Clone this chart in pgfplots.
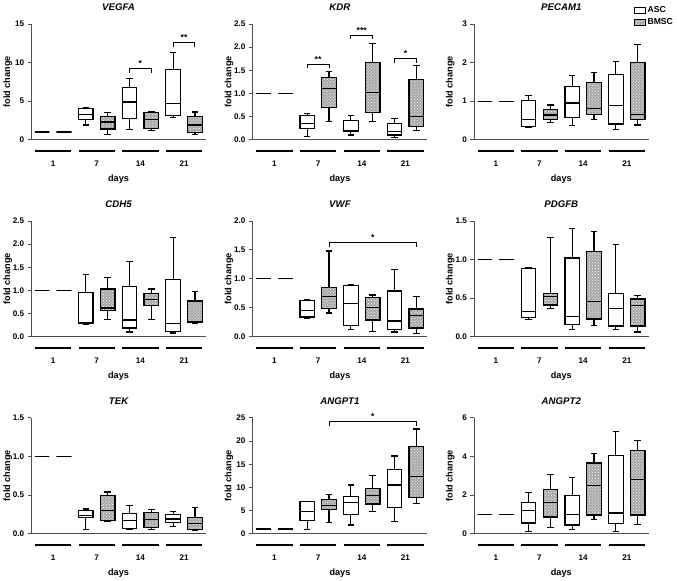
\documentclass[border=0pt]{standalone}
\usepackage{fontspec}
\setmainfont{Liberation Sans}
\usepackage{pgfplots}
\pgfplotsset{compat=1.18}
\usepgfplotslibrary{groupplots,statistics}
\usetikzlibrary{patterns}

\pgfplotsset{
  asc/.style={black, line width=1.2pt, solid, boxplot/every box/.style={fill=white}},
  bmsc/.style={black, line width=1.2pt, solid, boxplot/every box/.style={fill=gray!70, postaction={pattern=crosshatch dots, pattern color=white}}},
  dec/.style={yticklabel style={/pgf/number format/.cd, fixed, fixed zerofill, precision=1}},
}
% position, lower whisker, lower quartile, median, upper quartile, upper whisker
\newcommand{\asc}[6]{\addplot[asc, boxplot prepared={draw direction=y, draw position=#1, lower whisker=#2, lower quartile=#3, median=#4, upper quartile=#5, upper whisker=#6}] coordinates {};}
\newcommand{\bm}[6]{\addplot[bmsc, boxplot prepared={draw direction=y, draw position=#1, lower whisker=#2, lower quartile=#3, median=#4, upper quartile=#5, upper whisker=#6}] coordinates {};}
% x1, x2, mid, low, high, stars
\newcommand{\brk}[6]{\draw[line width=1pt] (axis cs:#1,#4) -- (axis cs:#1,#5) -- (axis cs:#2,#5) -- (axis cs:#2,#4);
  \node[font=\bfseries\fontsize{8.5}{9}\selectfont, anchor=south, inner sep=1.5pt] at (axis cs:#3,#5) {#6};}
\newcommand{\grouplines}{%
  \draw[line width=1.6pt] ([yshift=-11pt]axis cs:0,0) -- ([yshift=-11pt]axis cs:2.5,0);
  \draw[line width=1.6pt] ([yshift=-11pt]axis cs:3,0) -- ([yshift=-11pt]axis cs:5.5,0);
  \draw[line width=1.6pt] ([yshift=-11pt]axis cs:6,0) -- ([yshift=-11pt]axis cs:8.5,0);
  \draw[line width=1.6pt] ([yshift=-11pt]axis cs:9,0) -- ([yshift=-11pt]axis cs:11.5,0);}

\begin{document}
\begin{tikzpicture}
\begin{groupplot}[
  group style={group size=3 by 3, horizontal sep=46pt, vertical sep=80pt},
  width=172pt, height=114pt, scale only axis,
  xmin=-0.25, xmax=11.75, ymin=0,
  axis x line=bottom, axis y line=left,
  axis line style={-, line width=0.9pt, black!70},
  xtick={1.25,4.25,7.25,10.25}, xticklabels={1,7,14,21},
  x tick style={draw=none},
  xticklabel style={yshift=-14pt},
  y tick style={line width=0.9pt, black!70},
  tick align=outside, major tick length=3.5pt,
  boxplot/draw direction=y, boxplot/box extend=1, boxplot/whisker extend=0.45,
  clip=false,
  xlabel={days}, ylabel={fold change},
  xlabel style={at={(axis description cs:0.5,0)}, anchor=north, yshift=-31pt},
  ylabel style={at={(axis description cs:-0.135,0.5)}, anchor=center},
  title style={font=\bfseries\itshape\fontsize{9.5}{10}\selectfont, yshift=4pt},
  ticklabel style={font=\bfseries\fontsize{8}{9}\selectfont},
  label style={font=\bfseries\fontsize{9}{10}\selectfont},
  /pgf/number format/assume math mode=true,
]
% VEGFA
\nextgroupplot[title={VEGFA}, ymax=15, ytick={0,5,10,15}]
\asc{0.5}{1}{1}{1}{1}{1}
\bm{2.0}{1}{1}{1}{1}{1}
\asc{3.5}{1.9}{2.6}{3.3}{4.0}{4.2}
\bm{5.0}{0.7}{1.4}{2.3}{3.0}{3.5}
\asc{6.5}{1.3}{2.7}{4.9}{6.8}{7.9}
\bm{8.0}{1.2}{1.5}{2.6}{3.5}{3.6}
\asc{9.5}{2.9}{3.1}{4.7}{9.1}{11.3}
\bm{11.0}{0.7}{0.9}{1.9}{3.0}{3.6}
\brk{6.5}{8.0}{7.25}{8.7}{9.2}{*}
\brk{9.5}{11.0}{10.25}{12.0}{12.6}{**}
\grouplines
% KDR
\nextgroupplot[title={KDR}, ymax=2.5, ytick={0,0.5,...,2.5}, dec]
\asc{0.5}{1}{1}{1}{1}{1}
\bm{2.0}{1}{1}{1}{1}{1}
\asc{3.5}{0.07}{0.25}{0.35}{0.53}{0.56}
\bm{5.0}{0.4}{0.7}{1.1}{1.35}{1.48}
\asc{6.5}{0.1}{0.17}{0.2}{0.42}{0.52}
\bm{8.0}{0.4}{0.58}{1.02}{1.67}{2.08}
\asc{9.5}{0.05}{0.1}{0.18}{0.35}{0.45}
\bm{11.0}{0.2}{0.28}{0.5}{1.3}{1.6}
\brk{3.5}{5.0}{4.25}{1.54}{1.63}{**}
\brk{6.5}{8.0}{7.25}{2.17}{2.26}{***}
\brk{9.5}{11.0}{10.25}{1.65}{1.75}{*}
\grouplines
% PECAM1
\nextgroupplot[title={PECAM1}, ymax=3, ytick={0,1,2,3},
  legend style={at={(0.9,1.19)}, anchor=north west, draw=none, fill=none,
    font=\bfseries\fontsize{8.5}{9}\selectfont, row sep=1pt}, legend cell align=left]
\addlegendimage{legend image code/.code={\draw[black, line width=0.9pt, fill=white] (0pt,-3pt) rectangle (10pt,3pt);}}
\addlegendentry{ASC}
\addlegendimage{legend image code/.code={\draw[black, line width=0.9pt, fill=gray!70, postaction={pattern=crosshatch dots, pattern color=white}] (0pt,-3pt) rectangle (10pt,3pt);}}
\addlegendentry{BMSC}
\asc{0.5}{1}{1}{1}{1}{1}
\bm{2.0}{1}{1}{1}{1}{1}
\asc{3.5}{0.31}{0.34}{0.53}{1.01}{1.15}
\bm{5.0}{0.44}{0.53}{0.64}{0.78}{0.9}
\asc{6.5}{0.37}{0.57}{0.95}{1.37}{1.66}
\bm{8.0}{0.52}{0.66}{0.81}{1.48}{1.75}
\asc{9.5}{0.26}{0.41}{0.88}{1.69}{2.03}
\bm{11.0}{0.38}{0.53}{0.66}{2.0}{2.47}
\grouplines
% CDH5
\nextgroupplot[title={CDH5}, ymax=2.5, ytick={0,0.5,...,2.5}, dec]
\asc{0.5}{1}{1}{1}{1}{1}
\bm{2.0}{1}{1}{1}{1}{1}
\asc{3.5}{0.26}{0.28}{0.3}{0.95}{1.34}
\bm{5.0}{0.37}{0.57}{0.62}{1.03}{1.28}
\asc{6.5}{0.1}{0.19}{0.36}{1.09}{1.62}
\bm{8.0}{0.37}{0.67}{0.8}{0.93}{1.03}
\asc{9.5}{0.08}{0.12}{0.29}{1.24}{2.15}
\bm{11.0}{0.28}{0.3}{0.32}{0.77}{0.97}
\grouplines
% VWF
\nextgroupplot[title={VWF}, ymax=2, ytick={0,0.5,...,2}, dec]
\asc{0.5}{1}{1}{1}{1}{1}
\bm{2.0}{1}{1}{1}{1}{1}
\asc{3.5}{0.32}{0.34}{0.45}{0.62}{0.64}
\bm{5.0}{0.41}{0.49}{0.69}{0.85}{1.48}
\asc{6.5}{0.13}{0.2}{0.58}{0.89}{0.9}
\bm{8.0}{0.09}{0.29}{0.5}{0.68}{0.72}
\asc{9.5}{0.08}{0.12}{0.27}{0.79}{1.16}
\bm{11.0}{0.06}{0.15}{0.36}{0.48}{0.69}
\brk{5.0}{11.0}{8.0}{1.55}{1.63}{*}
\grouplines
% PDGFB
\nextgroupplot[title={PDGFB}, ymax=1.5, ytick={0,0.5,...,1.5}, dec]
\asc{0.5}{1}{1}{1}{1}{1}
\bm{2.0}{1}{1}{1}{1}{1}
\asc{3.5}{0.22}{0.25}{0.33}{0.88}{0.9}
\bm{5.0}{0.37}{0.41}{0.52}{0.56}{1.29}
\asc{6.5}{0.09}{0.16}{0.26}{1.02}{1.4}
\bm{8.0}{0.15}{0.23}{0.46}{1.1}{1.36}
\asc{9.5}{0.09}{0.14}{0.37}{0.56}{1.19}
\bm{11.0}{0.06}{0.14}{0.4}{0.49}{0.53}
\grouplines
% TEK
\nextgroupplot[title={TEK}, ymax=1.5, ytick={0,0.5,...,1.5}, dec]
\asc{0.5}{1}{1}{1}{1}{1}
\bm{2.0}{1}{1}{1}{1}{1}
\asc{3.5}{0.05}{0.21}{0.24}{0.3}{0.32}
\bm{5.0}{0.16}{0.17}{0.3}{0.5}{0.54}
\asc{6.5}{0.05}{0.07}{0.17}{0.26}{0.37}
\bm{8.0}{0.05}{0.08}{0.18}{0.27}{0.31}
\asc{9.5}{0.09}{0.15}{0.19}{0.25}{0.29}
\bm{11.0}{0.04}{0.05}{0.13}{0.21}{0.34}
\grouplines
% ANGPT1
\nextgroupplot[title={ANGPT1}, ymax=25, ytick={0,5,...,25}]
\asc{0.5}{1}{1}{1}{1}{1}
\bm{2.0}{1}{1}{1}{1}{1}
\asc{3.5}{0.9}{2.9}{4.8}{7.0}{7.0}
\bm{5.0}{2.5}{5.2}{6.1}{7.4}{8.5}
\asc{6.5}{1.9}{4.2}{6.7}{8.0}{10.5}
\bm{8.0}{4.8}{6.4}{8.2}{9.7}{12.5}
\asc{9.5}{2.7}{5.6}{10.5}{13.85}{16.8}
\bm{11.0}{6.5}{7.9}{12.4}{18.9}{22.6}
\brk{5.0}{11.0}{8.0}{23.3}{24.2}{*}
\grouplines
% ANGPT2
\nextgroupplot[title={ANGPT2}, ymax=6, ytick={0,2,4,6}]
\asc{0.5}{1}{1}{1}{1}{1}
\bm{2.0}{1}{1}{1}{1}{1}
\asc{3.5}{0.12}{0.55}{1.2}{1.6}{2.15}
\bm{5.0}{0.33}{0.87}{1.62}{2.3}{3.05}
\asc{6.5}{0.22}{0.45}{1.0}{1.97}{2.92}
\bm{8.0}{0.72}{0.97}{2.5}{3.67}{4.15}
\asc{9.5}{0.12}{0.52}{1.07}{4.07}{5.28}
\bm{11.0}{0.48}{0.97}{2.8}{4.3}{4.83}
\grouplines
\end{groupplot}
\end{tikzpicture}
\end{document}
